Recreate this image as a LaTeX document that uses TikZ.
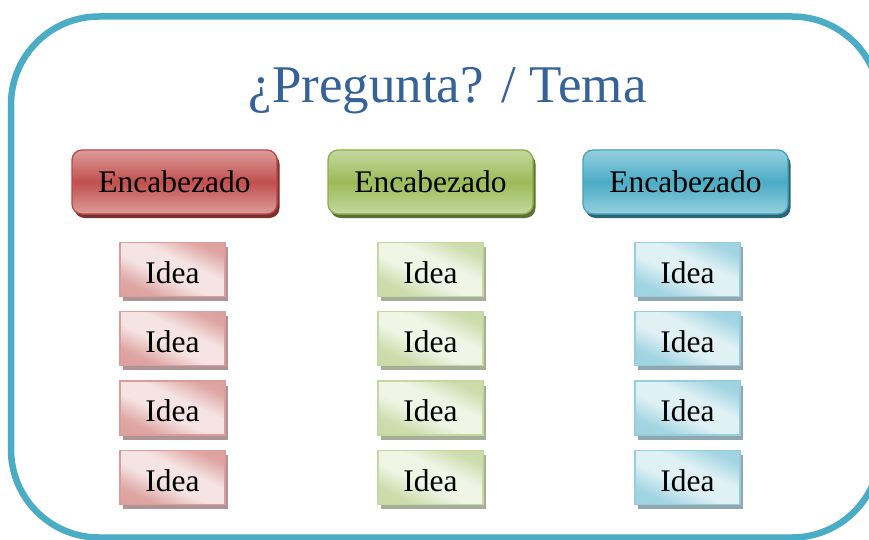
\documentclass[tikz,border=0pt]{standalone}
\usepackage{fontspec}
\setmainfont{Liberation Serif}
\usetikzlibrary{shadows}
\definecolor{frameC}{HTML}{4BACC6}
\definecolor{titleC}{HTML}{36629A}
% red
\definecolor{rBase}{HTML}{C0504D}
\definecolor{rLight}{HTML}{DD9C9A}
\definecolor{rBorder}{HTML}{B8494A}
\definecolor{rShadow}{HTML}{7A302E}
\definecolor{rIdeaL}{HTML}{F5E4E3}
\definecolor{rIdeaD}{HTML}{DA9A98}
\definecolor{rIdeaB}{HTML}{DC9C9A}
\definecolor{rIdeaS}{HTML}{AE9494}
% green
\definecolor{gBase}{HTML}{9BBB59}
\definecolor{gLight}{HTML}{C4D89E}
\definecolor{gBorder}{HTML}{8DAD4D}
\definecolor{gShadow}{HTML}{5C7230}
\definecolor{gIdeaL}{HTML}{F0F5E6}
\definecolor{gIdeaD}{HTML}{C6D8A2}
\definecolor{gIdeaB}{HTML}{C5D8A0}
\definecolor{gIdeaS}{HTML}{A6AD98}
% blue
\definecolor{bBase}{HTML}{4BACC6}
\definecolor{bLight}{HTML}{95CFDE}
\definecolor{bBorder}{HTML}{44A1BA}
\definecolor{bShadow}{HTML}{2C6676}
\definecolor{bIdeaL}{HTML}{E0F1F5}
\definecolor{bIdeaD}{HTML}{98D0DF}
\definecolor{bIdeaB}{HTML}{96CEDD}
\definecolor{bIdeaS}{HTML}{8FA7AE}
\pgfdeclareverticalshading{rIdeaSh}{100bp}{color(0bp)=(rIdeaD); color(28bp)=(rIdeaD!85!rIdeaL); color(44bp)=(rIdeaL); color(58bp)=(rIdeaL); color(74bp)=(rIdeaD!85!rIdeaL); color(100bp)=(rIdeaD)}
\pgfdeclareverticalshading{gIdeaSh}{100bp}{color(0bp)=(gIdeaD); color(28bp)=(gIdeaD!85!gIdeaL); color(44bp)=(gIdeaL); color(58bp)=(gIdeaL); color(74bp)=(gIdeaD!85!gIdeaL); color(100bp)=(gIdeaD)}
\pgfdeclareverticalshading{bIdeaSh}{100bp}{color(0bp)=(bIdeaD); color(28bp)=(bIdeaD!85!bIdeaL); color(44bp)=(bIdeaL); color(58bp)=(bIdeaL); color(74bp)=(bIdeaD!85!bIdeaL); color(100bp)=(bIdeaD)}
\tikzset{
  hdr/.style n args={4}{draw=#3, line width=1.3pt, rounded corners=10pt,
    minimum width=205pt, minimum height=64pt, inner sep=0pt,
    top color=#2, bottom color=#2, middle color=#1,
    font=\fontsize{31.5}{36}\selectfont, text height=21.8pt, text depth=0pt,
    drop shadow={shadow xshift=2.5pt, shadow yshift=-4pt, fill=#4, opacity=1, rounded corners=10pt}},
  idea/.style n args={3}{draw=#2, line width=1.6pt,
    minimum width=105pt, minimum height=54pt, inner sep=0pt,
    shading=#1, shading angle=-25,
    font=\fontsize{31.5}{36}\selectfont, text height=27.5pt, text depth=0pt,
    drop shadow={shadow xshift=3pt, shadow yshift=-5pt, fill=#3, opacity=1}},
  rhdr/.style={hdr={rBase}{rLight}{rBorder}{rShadow}},
  ghdr/.style={hdr={gBase}{gLight}{gBorder}{gShadow}},
  bhdr/.style={hdr={bBase}{bLight}{bBorder}{bShadow}},
  ridea/.style={idea={rIdeaSh}{rIdeaB}{rIdeaS}},
  gidea/.style={idea={gIdeaSh}{gIdeaB}{gIdeaS}},
  bidea/.style={idea={bIdeaSh}{bIdeaB}{bIdeaS}},
  frame/.style={draw=frameC, line width=6.5pt, rounded corners=88pt},
  titletext/.style={text=titleC, font=\fontsize{53}{60}\selectfont, inner sep=0pt, anchor=base}
}
\begin{document}
\begin{tikzpicture}[x=1pt,y=1pt]
\useasboundingbox (0,0) rectangle (869,539);
\draw[frame] (11,522.5) rectangle (880,1.5);
\node[titletext] (title) at (447.5,436) {¿Pregunta? / Tema};
\node[rhdr] (h1) at (174.5,357) {Encabezado};
\node[ghdr] (h2) at (430.5,357) {Encabezado};
\node[bhdr] (h3) at (685.5,357) {Encabezado};
\foreach \i/\y in {1/269.6,2/200.6,3/131.1,4/61.6}{
  \node[ridea] (r\i) at (172.5,\y) {Idea};
  \node[gidea] (g\i) at (430.5,\y) {Idea};
  \node[bidea] (b\i) at (687.5,\y) {Idea};
}
\end{tikzpicture}
\end{document}
